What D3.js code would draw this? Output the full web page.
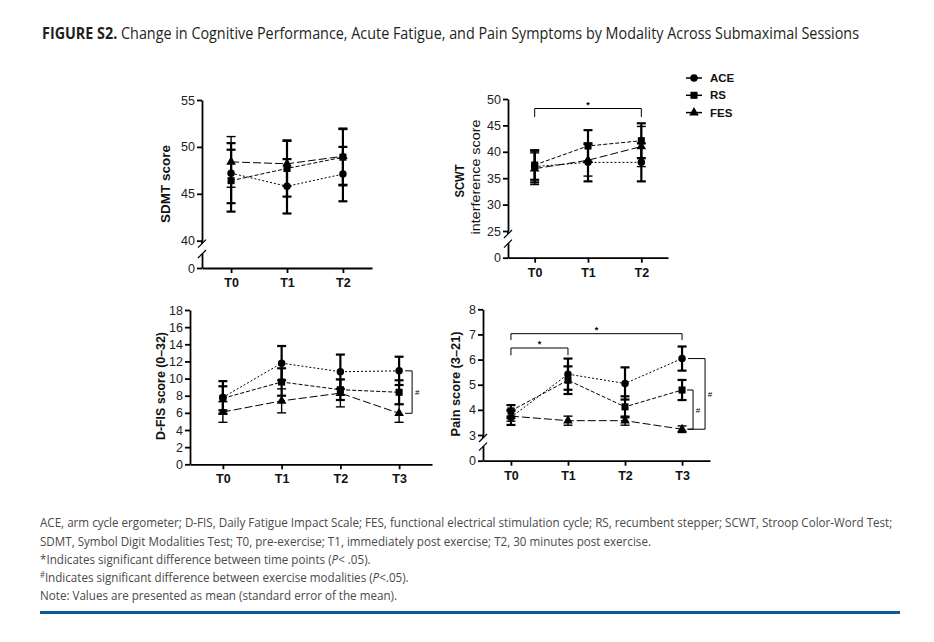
<!DOCTYPE html>
<html><head><meta charset="utf-8">
<script src="https://cdn.jsdelivr.net/npm/d3@7"></script>
<style>body{margin:0;background:#fff}svg{display:block}</style>
</head><body><svg id="c" width="934" height="642"></svg>
<script>
// ---------- DATA ----------
const times3 = ["T0", "T1", "T2"];
const times4 = ["T0", "T1", "T2", "T3"];
const seriesNames = ["ACE", "RS", "FES"];

// SDMT score
const sdmtACE = [47.2, 45.8, 47.1], sdmtACEse = [3.2, 2.9, 2.9];
const sdmtRS  = [46.4, 47.7, 48.9], sdmtRSse  = [3.3, 3.0, 3.0];
const sdmtFES = [48.4, 48.2, 49.0], sdmtFESse = [2.7, 2.4, 3.0];
const sdmtTicks = [40, 45, 50, 55];

// SCWT interference score
const scwtACE = [37.2, 38.0, 38.0], scwtACEse = [3.0, 3.6, 3.6];
const scwtRS  = [37.5, 41.1, 42.1], scwtRSse  = [2.8, 3.0, 3.3];
const scwtFES = [36.8, 38.4, 41.0], scwtFESse = [3.0, 3.0, 3.8];
const scwtTicks = [25, 30, 35, 40, 45, 50];

// D-FIS score
const dfisACE = [7.8, 11.8, 10.8, 10.9], dfisACEse = [1.9, 2.0, 2.0, 1.65];
const dfisRS  = [7.7, 9.6, 8.7, 8.4],    dfisRSse  = [1.4, 1.6, 1.2, 1.4];
const dfisFES = [6.1, 7.4, 8.3, 5.95],   dfisFESse = [1.2, 1.4, 1.6, 1.05];
const dfisTicks = [0, 2, 4, 6, 8, 10, 12, 14, 16, 18];

// Pain score
const painACE = [3.70, 5.42, 5.05, 6.04], painACEse = [0.30, 0.62, 0.64, 0.48];
const painRS  = [3.96, 5.18, 4.12, 4.79], painRSse  = [0.23, 0.55, 0.42, 0.40];
const painFES = [3.75, 3.57, 3.57, 3.23], painFESse = [0.20, 0.18, 0.18, 0.13];
const painTicks = [3, 4, 5, 6, 7, 8];

const titleBold = "FIGURE S2.";
const titleRest = " Change in Cognitive Performance, Acute Fatigue, and Pain Symptoms by Modality Across Submaximal Sessions";
const notes = [
  "ACE, arm cycle ergometer; D-FIS, Daily Fatigue Impact Scale; FES, functional electrical stimulation cycle; RS, recumbent stepper; SCWT, Stroop Color-Word Test;",
  "SDMT, Symbol Digit Modalities Test; T0, pre-exercise; T1, immediately post exercise; T2, 30 minutes post exercise."
];

// ---------- DRAW ----------
const svg = d3.select("#c");
const AX = "'Liberation Sans', Arial, sans-serif";
const COND = "'Open Sans', 'Noto Sans', sans-serif";
const fmt = d3.format("d");
const TICK_FS = 12.5;

const style = {
  ACE: {dash: "2,2", sym: d3.symbolCircle, size: 44, ew: 2.2},
  RS:  {dash: "4,2", sym: d3.symbolSquare, size: 50, ew: 2.2},
  FES: {dash: "8,3", sym: d3.symbolTriangle, size: 40, ew: 1.4}
};

function panel(cfg) {
  const g = svg.append("g");
  const x = d3.scalePoint().domain(cfg.cats).range([cfg.x0, cfg.x1]).padding(cfg.pad);
  const y = d3.scaleLinear().domain(cfg.yDomain).range(cfg.yRange);

  const ay = g.append("g").attr("transform", `translate(${cfg.x0},0)`)
    .call(d3.axisLeft(y).tickValues(cfg.ticks).tickFormat(fmt).tickSize(5).tickSizeOuter(0).tickPadding(2));
  ay.selectAll("text").attr("font-family", AX).attr("font-size", TICK_FS).attr("fill", "#222");
  ay.selectAll("path,line").attr("stroke", "#000").attr("stroke-width", 1.8);

  if (cfg.zeroY !== undefined) {
    const yb = y(cfg.yDomain[0]);
    g.append("line").attr("x1", cfg.x0).attr("x2", cfg.x0).attr("y1", yb).attr("y2", yb + 3)
      .attr("stroke", "#000").attr("stroke-width", 1.8);
    const y0 = d3.scaleLinear().domain([0, 1]).range([cfg.zeroY, cfg.zeroY - 15]);
    const az = g.append("g").attr("transform", `translate(${cfg.x0},0)`)
      .call(d3.axisLeft(y0).tickValues([0]).tickFormat(fmt).tickSize(5).tickSizeOuter(0).tickPadding(2));
    az.selectAll("text").attr("font-family", AX).attr("font-size", TICK_FS).attr("fill", "#222");
    az.selectAll("path,line").attr("stroke", "#000").attr("stroke-width", 1.8);
    [yb + 3, cfg.zeroY - 14].forEach(cy => {
      g.append("line").attr("x1", cfg.x0 - 4).attr("y1", cy + 4).attr("x2", cfg.x0 + 4).attr("y2", cy - 4)
        .attr("stroke", "#000").attr("stroke-width", 1.2);
    });
  }
  const xAxisY = cfg.zeroY !== undefined ? cfg.zeroY : y(0);
  const axx = g.append("g").attr("transform", `translate(0,${xAxisY})`)
    .call(d3.axisBottom(x).tickSize(5).tickSizeOuter(0).tickPadding(5));
  axx.selectAll("text").attr("font-family", AX).attr("font-size", TICK_FS).attr("font-weight", "bold").attr("fill", "#111");
  axx.selectAll("path,line").attr("stroke", "#000").attr("stroke-width", 1.8);

  cfg.series.forEach(s => {
    const st = style[s.name];
    const line = d3.line().x((d, i) => x(cfg.cats[i])).y(d => y(d));
    g.append("path").attr("d", line(s.v)).attr("fill", "none").attr("stroke", "#000")
      .attr("stroke-width", 1).attr("stroke-dasharray", st.dash);
  });
  cfg.series.forEach(s => {
    const st = style[s.name];
    s.v.forEach((v, i) => {
      const cx = x(cfg.cats[i]);
      const t = y(v + s.e[i]), b = y(v - s.e[i]);
      g.append("line").attr("x1", cx).attr("x2", cx).attr("y1", t).attr("y2", b)
        .attr("stroke", "#000").attr("stroke-width", st.ew);
      [t, b].forEach(yy => g.append("line").attr("x1", cx - 4.5).attr("x2", cx + 4.5)
        .attr("y1", yy).attr("y2", yy).attr("stroke", "#000").attr("stroke-width", st.ew));
    });
  });
  cfg.series.forEach(s => {
    const st = style[s.name];
    s.v.forEach((v, i) => {
      g.append("path").attr("d", d3.symbol().type(st.sym).size(st.size)())
        .attr("transform", `translate(${x(cfg.cats[i])},${y(v)})`).attr("fill", "#000");
    });
  });
  return {g, x, y};
}

const p1 = panel({
  cats: times3, x0: 202, x1: 372, pad: 0.52,
  yDomain: [40, 55], yRange: [240.7, 100], zeroY: 268, ticks: sdmtTicks,
  series: [
    {name: "ACE", v: sdmtACE, e: sdmtACEse},
    {name: "RS", v: sdmtRS, e: sdmtRSse},
    {name: "FES", v: sdmtFES, e: sdmtFESse}]
});
const p2 = panel({
  cats: times3, x0: 508, x1: 668, pad: 0.5,
  yDomain: [25, 50], yRange: [231, 99], zeroY: 257.7, ticks: scwtTicks,
  series: [
    {name: "ACE", v: scwtACE, e: scwtACEse},
    {name: "RS", v: scwtRS, e: scwtRSse},
    {name: "FES", v: scwtFES, e: scwtFESse}]
});
const p3 = panel({
  cats: times4, x0: 190, x1: 432, pad: 0.56,
  yDomain: [0, 18], yRange: [464.3, 310], ticks: dfisTicks,
  series: [
    {name: "ACE", v: dfisACE, e: dfisACEse},
    {name: "RS", v: dfisRS, e: dfisRSse},
    {name: "FES", v: dfisFES, e: dfisFESse}]
});
const p4 = panel({
  cats: times4, x0: 483, x1: 710, pad: 0.49,
  yDomain: [3, 8], yRange: [435, 309.3], zeroY: 460.7, ticks: painTicks,
  series: [
    {name: "ACE", v: painACE, e: painACEse},
    {name: "RS", v: painRS, e: painRSse},
    {name: "FES", v: painFES, e: painFESse}]
});

function ylab(x, y, txt, opts) {
  const t = svg.append("text").attr("transform", `translate(${x},${y}) rotate(-90)`)
    .attr("text-anchor", "middle").attr("font-family", AX)
    .attr("font-size", opts.size).attr("font-weight", opts.weight).attr("fill", "#111").text(txt);
  if (opts.len) t.attr("textLength", opts.len).attr("lengthAdjust", "spacingAndGlyphs");
}
ylab(170, 184, "SDMT score", {size: 13, weight: "bold", len: 78});
ylab(464, 181, "SCWT", {size: 13, weight: "bold", len: 33});
ylab(480, 177, "interference score", {size: 12, weight: "normal", len: 115});
ylab(165, 386, "D-FIS score (0\u201332)", {size: 12, weight: "bold", len: 108});
ylab(460, 384, "Pain score  (3\u201321)", {size: 13, weight: "bold", len: 105});

function bracket(g, xa, xb, yTop, yDrop, label, lx, ly) {
  g.append("path").attr("d", `M${xa},${yDrop}V${yTop}H${xb}V${yDrop}`)
    .attr("fill", "none").attr("stroke", "#000").attr("stroke-width", 1);
  g.append("text").attr("x", lx).attr("y", ly).attr("text-anchor", "middle")
    .attr("font-family", AX).attr("font-size", 9).attr("font-weight", "bold").text(label);
}
bracket(p2.g, p2.x("T0"), p2.x("T2"), p2.y(48.2), p2.y(46.6), "*", (p2.x("T0") + p2.x("T2")) / 2, p2.y(48.2) - 1);
bracket(p4.g, p4.x("T0"), p4.x("T1"), p4.y(6.46), p4.y(6.17), "*", (p4.x("T0") + p4.x("T1")) / 2, p4.y(6.46) - 1);
bracket(p4.g, p4.x("T0"), p4.x("T3"), p4.y(7.03), p4.y(6.78), "*", (p4.x("T0") + p4.x("T3")) / 2, p4.y(7.03) - 1);

function sideBracket(p, xs, vTop, vBot, off, tick, label) {
  const xv = xs + off;
  p.g.append("path").attr("d", `M${xs + tick},${p.y(vTop)}H${xv}V${p.y(vBot)}H${xs + tick}`)
    .attr("fill", "none").attr("stroke", "#000").attr("stroke-width", 1);
  p.g.append("text").attr("x", xv + 5).attr("y", (p.y(vTop) + p.y(vBot)) / 2 + 3)
    .attr("text-anchor", "middle").attr("font-family", AX).attr("font-size", 8).text(label);
}
sideBracket(p3, p3.x("T3"), dfisACE[3], dfisFES[3], 13, 6, "#");
sideBracket(p4, p4.x("T3"), painRS[3], painFES[3], 11, 5, "#");
sideBracket(p4, p4.x("T3"), painACE[3], painFES[3], 23, 6, "#");

seriesNames.forEach((n, i) => {
  const ly = 78 + i * 17.3;
  const lg = svg.append("g");
  lg.append("line").attr("x1", 686).attr("x2", 702).attr("y1", ly).attr("y2", ly)
    .attr("stroke", "#000").attr("stroke-width", 1.5);
  lg.append("path").attr("d", d3.symbol().type(style[n].sym).size(style[n].size)())
    .attr("transform", `translate(694,${ly})`).attr("fill", "#000");
  lg.append("text").attr("x", 710).attr("y", ly + 4).attr("font-family", AX)
    .attr("font-size", 11.5).attr("font-weight", "bold").attr("fill", "#111").text(n);
});

// Title, condensed by horizontal scaling to span the reference width
const tt = svg.append("text").attr("font-family", COND).attr("font-size", 16).attr("fill", "#231f20");
tt.append("tspan").attr("font-weight", "bold").text(titleBold);
tt.append("tspan").text(titleRest);
const tsx = 818 / tt.node().getComputedTextLength();
tt.attr("transform", `translate(42,39) scale(${tsx},1)`);

// footnotes
const fy = [527, 546, 564, 582, 600];
const FS = 12.5;
const fnG = svg.append("g").attr("font-family", COND).attr("fill", "#4a4a4a").attr("font-size", FS);
const lines = [];
let t = fnG.append("text"); t.text(notes[0]); lines.push(t);
t = fnG.append("text"); t.text(notes[1]); lines.push(t);
t = fnG.append("text");
t.append("tspan").text("*Indicates significant difference between time points (");
t.append("tspan").attr("font-style", "italic").text("P");
t.append("tspan").text("< .05).");
lines.push(t);
t = fnG.append("text");
t.append("tspan").attr("font-size", FS * 0.65).attr("dy", -4).text("#");
t.append("tspan").attr("dy", 4).text("Indicates significant difference between exercise modalities (");
t.append("tspan").attr("font-style", "italic").text("P");
t.append("tspan").text("<.05).");
lines.push(t);
t = fnG.append("text"); t.text("Note: Values are presented as mean (standard error of the mean)."); lines.push(t);
const sx = 853 / lines[0].node().getComputedTextLength();
lines.forEach((l, i) => l.attr("transform", `translate(40,${fy[i]}) scale(${sx},1)`));

svg.append("rect").attr("x", 40).attr("y", 611).attr("width", 860).attr("height", 3).attr("fill", "#0b5c96");
</script></body></html>
